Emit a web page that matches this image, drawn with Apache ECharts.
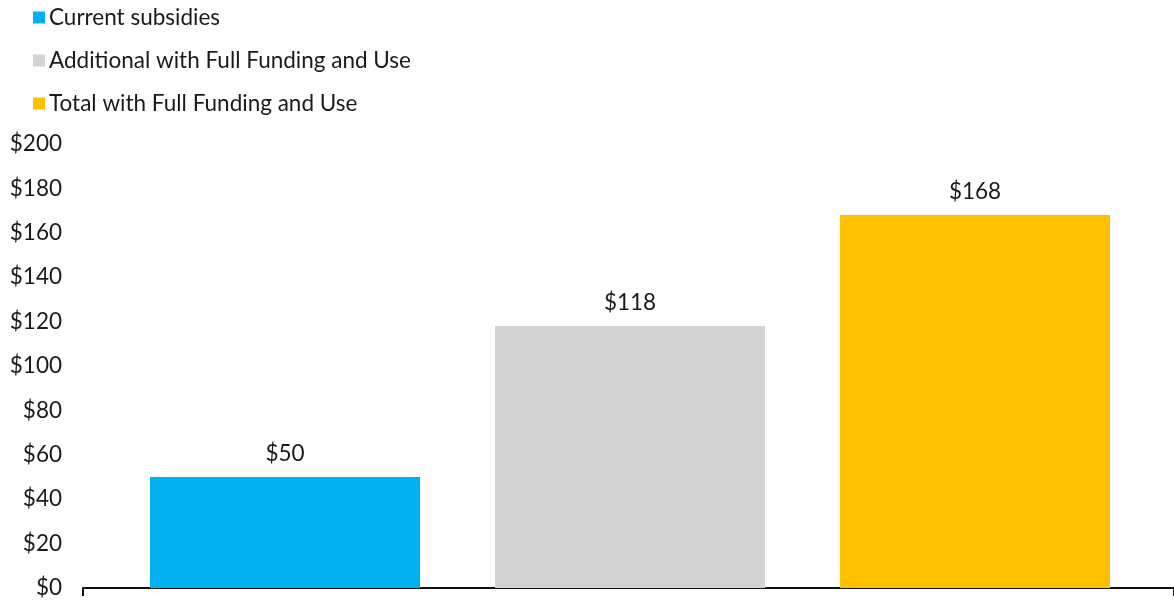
<!DOCTYPE html>
<html>
<head>
<meta charset="utf-8">
<script src="https://cdn.jsdelivr.net/npm/echarts@6/dist/echarts.min.js"></script>
<style>
  html, body { margin: 0; padding: 0; background: #fff; }
  #chart { width: 1174px; height: 601px; }
</style>
</head>
<body>
<div id="chart"></div>
<script>
// Subsidy amounts (dollars)
const categories = ['Current subsidies', 'Additional with Full Funding and Use', 'Total with Full Funding and Use'];
const current = [50, '-', '-'];
const additional = ['-', 118, '-'];
const total = ['-', '-', 168];
const colors = ['#00B0F0', '#D3D3D3', '#FFC000'];
const yMin = 0, yMax = 200, yStep = 20;

const font = 'Lato, "Open Sans", sans-serif';
const fontSize = 22.5;
const textColor = '#1a1a1a';

function barSeries(name, data, color) {
  return {
    name: name,
    type: 'bar',
    stack: 'one',
    xAxisIndex: 0,
    yAxisIndex: 0,
    barWidth: 270,
    data: data,
    itemStyle: { color: color },
    label: {
      show: true,
      position: 'top',
      distance: 12,
      formatter: p => '$' + p.value,
      fontFamily: font,
      fontSize: fontSize,
      color: textColor
    }
  };
}

const chart = echarts.init(document.getElementById('chart'));
chart.setOption({
  animation: false,
  backgroundColor: '#fff',
  textStyle: { fontFamily: font },
  legend: {
    orient: 'vertical',
    left: 28,
    top: 1,
    itemWidth: 12,
    itemHeight: 12,
    itemGap: 20,
    icon: 'rect',
    data: categories,
    textStyle: { fontFamily: font, fontSize: fontSize, color: textColor, padding: [0, 0, 0, -1] }
  },
  grid: [
    { left: 112.5, right: 26.5, top: 144, bottom: 13 },
    { left: 83, right: -3, top: 144, bottom: 13 }
  ],
  xAxis: [
    {
      type: 'category',
      gridIndex: 0,
      data: categories,
      axisLine: { show: false },
      axisTick: { show: false },
      axisLabel: { show: false }
    },
    {
      type: 'value',
      gridIndex: 1,
      min: 0,
      max: 1,
      interval: 1,
      axisLine: { show: true, onZero: false, lineStyle: { color: '#111', width: 2 } },
      axisTick: { show: true, length: 8, lineStyle: { color: '#111', width: 2 } },
      axisLabel: { show: false },
      splitLine: { show: false }
    }
  ],
  yAxis: [
    {
      type: 'value',
      gridIndex: 0,
      min: yMin, max: yMax, interval: yStep,
      show: false,
      splitLine: { show: false }
    },
    {
      type: 'value',
      gridIndex: 1,
      min: yMin, max: yMax, interval: yStep,
      axisLine: { show: false },
      axisTick: { show: false },
      splitLine: { show: false },
      axisLabel: {
        margin: 21,
        fontFamily: font,
        fontSize: fontSize,
        color: textColor,
        formatter: v => '$' + v
      }
    }
  ],
  series: [
    barSeries(categories[0], current, colors[0]),
    barSeries(categories[1], additional, colors[1]),
    barSeries(categories[2], total, colors[2])
  ]
});
</script>
</body>
</html>
